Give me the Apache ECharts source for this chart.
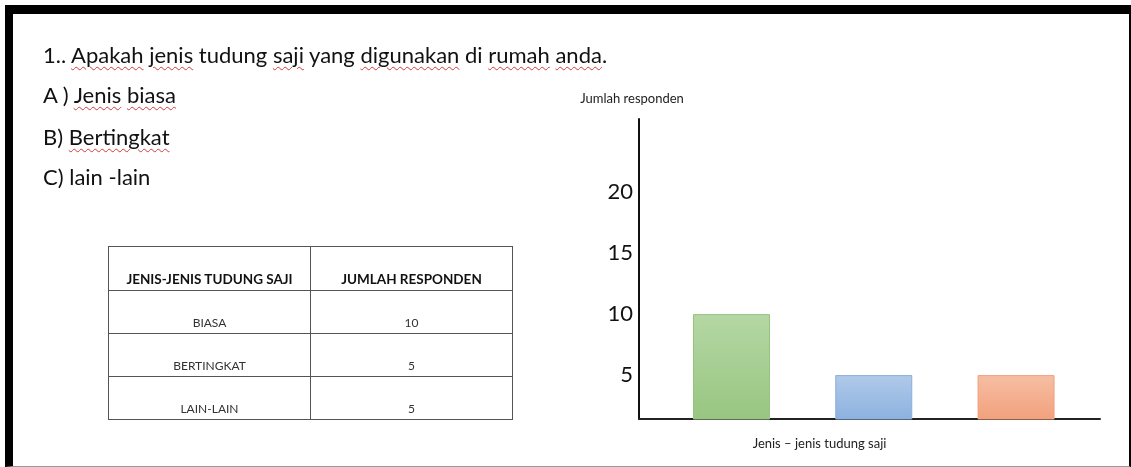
<!DOCTYPE html>
<html>
<head>
<meta charset="utf-8">
<script src="https://cdn.jsdelivr.net/npm/echarts@6/dist/echarts.min.js"></script>
<style>
  body { margin: 0; width: 1131px; height: 467px; overflow: hidden; background: #fff; font-family: Lato, sans-serif; }
  .frame {
    position: absolute; left: 5px; top: 5px; right: 0; bottom: 0;
    border-top: 9px solid #000; border-left: 8px solid #000;
    border-right: 2px solid #000; border-bottom: 1px solid #999;
  }
  #chart { position: absolute; left: 0; top: 0; width: 1131px; height: 467px; }
  .q { position: absolute; left: 43px; font-size: 22px; line-height: 22px; color: #111; white-space: nowrap; }
  .sp { text-decoration: underline wavy #d43a3a; text-decoration-thickness: 1px; text-underline-offset: 3px; }
  table {
    position: absolute; left: 108px; top: 246px; width: 405px; height: 173px;
    border-collapse: collapse; border: 1.5px solid #444;
  }
  td, th { border: 1px solid #555; text-align: center; vertical-align: bottom; padding: 0 0 3px 0; width: 50%; }
  th { font-size: 13.5px; font-weight: 700; color: #111; height: 40px; padding-bottom: 3px; }
  td { font-size: 12px; color: #333; height: 39px; }
</style>
</head>
<body>
<div class="frame"></div>
<div id="chart"></div>
<div class="q" style="top:44px">1.. <span class="sp">Apakah</span> <span class="sp">jenis</span> tudung <span class="sp">saji</span> yang <span class="sp">digunakan</span> di <span class="sp">rumah</span> <span class="sp">anda</span>.</div>
<div class="q" style="top:84px">A ) <span class="sp">Jenis</span> <span class="sp">biasa</span></div>
<div class="q" style="top:126px">B) <span class="sp">Bertingkat</span></div>
<div class="q" style="top:166px">C) lain -lain</div>
<table id="tbl"></table>
<script>
// data
const tableHead = ['JENIS-JENIS TUDUNG SAJI', 'JUMLAH RESPONDEN'];
const categories = ['BIASA', 'BERTINGKAT', 'LAIN-LAIN'];
const responden = [10, 5, 5];
const yTicks = [5, 10, 15, 20];
const barColors = [
  ['#b5d7a4', '#98c681', '#95c37f'],
  ['#b0c9e8', '#8cb2e0', '#8aaee0'],
  ['#f6bea4', '#f2a17c', '#f0a07c']
];

// table built from the same arrays
let html = '<tr>' + tableHead.map(h => '<th>' + h + '</th>').join('') + '</tr>';
categories.forEach((c, i) => {
  html += '<tr><td>' + c + '</td><td>' + responden[i] + '</td></tr>';
});
document.getElementById('tbl').innerHTML = html;

const chart = echarts.init(document.getElementById('chart'));
chart.setOption({
  animation: false,
  textStyle: { fontFamily: 'Lato' },
  grid: { left: 639, top: 119, width: 461, height: 300 },
  xAxis: {
    type: 'value',
    min: 0.35,
    max: 3.59,
    axisLine: { onZero: false, lineStyle: { color: '#222', width: 2 } },
    axisTick: { show: false },
    axisLabel: { show: false },
    splitLine: { show: false },
    name: 'Jenis \u2013 jenis tudung saji',
    nameLocation: 'middle',
    nameGap: 18,
    nameTextStyle: { fontSize: 13, color: '#222', padding: [0, 100, 0, 0] }
  },
  yAxis: {
    type: 'value',
    min: 1.4,
    max: 26,
    axisLine: { show: true, onZero: false, lineStyle: { color: '#111', width: 2 } },
    axisTick: { show: false },
    splitLine: { show: false },
    axisLabel: { customValues: yTicks, fontSize: 22, color: '#111', margin: 6 },
    name: 'Jumlah responden',
    nameLocation: 'end',
    nameGap: 14,
    nameTextStyle: { fontSize: 13, color: '#222', padding: [0, 14, 0, 0] }
  },
  series: [{
    type: 'bar',
    barWidth: 77,
    clip: true,
    data: responden.map((v, i) => ({
      value: [i + 1, v],
      name: categories[i],
      itemStyle: {
        color: new echarts.graphic.LinearGradient(0, 0, 0, 1, [
          { offset: 0, color: barColors[i][0] },
          { offset: 1, color: barColors[i][1] }
        ]),
        borderColor: barColors[i][2],
        borderWidth: 1
      }
    }))
  }]
});
</script>
</body>
</html>
